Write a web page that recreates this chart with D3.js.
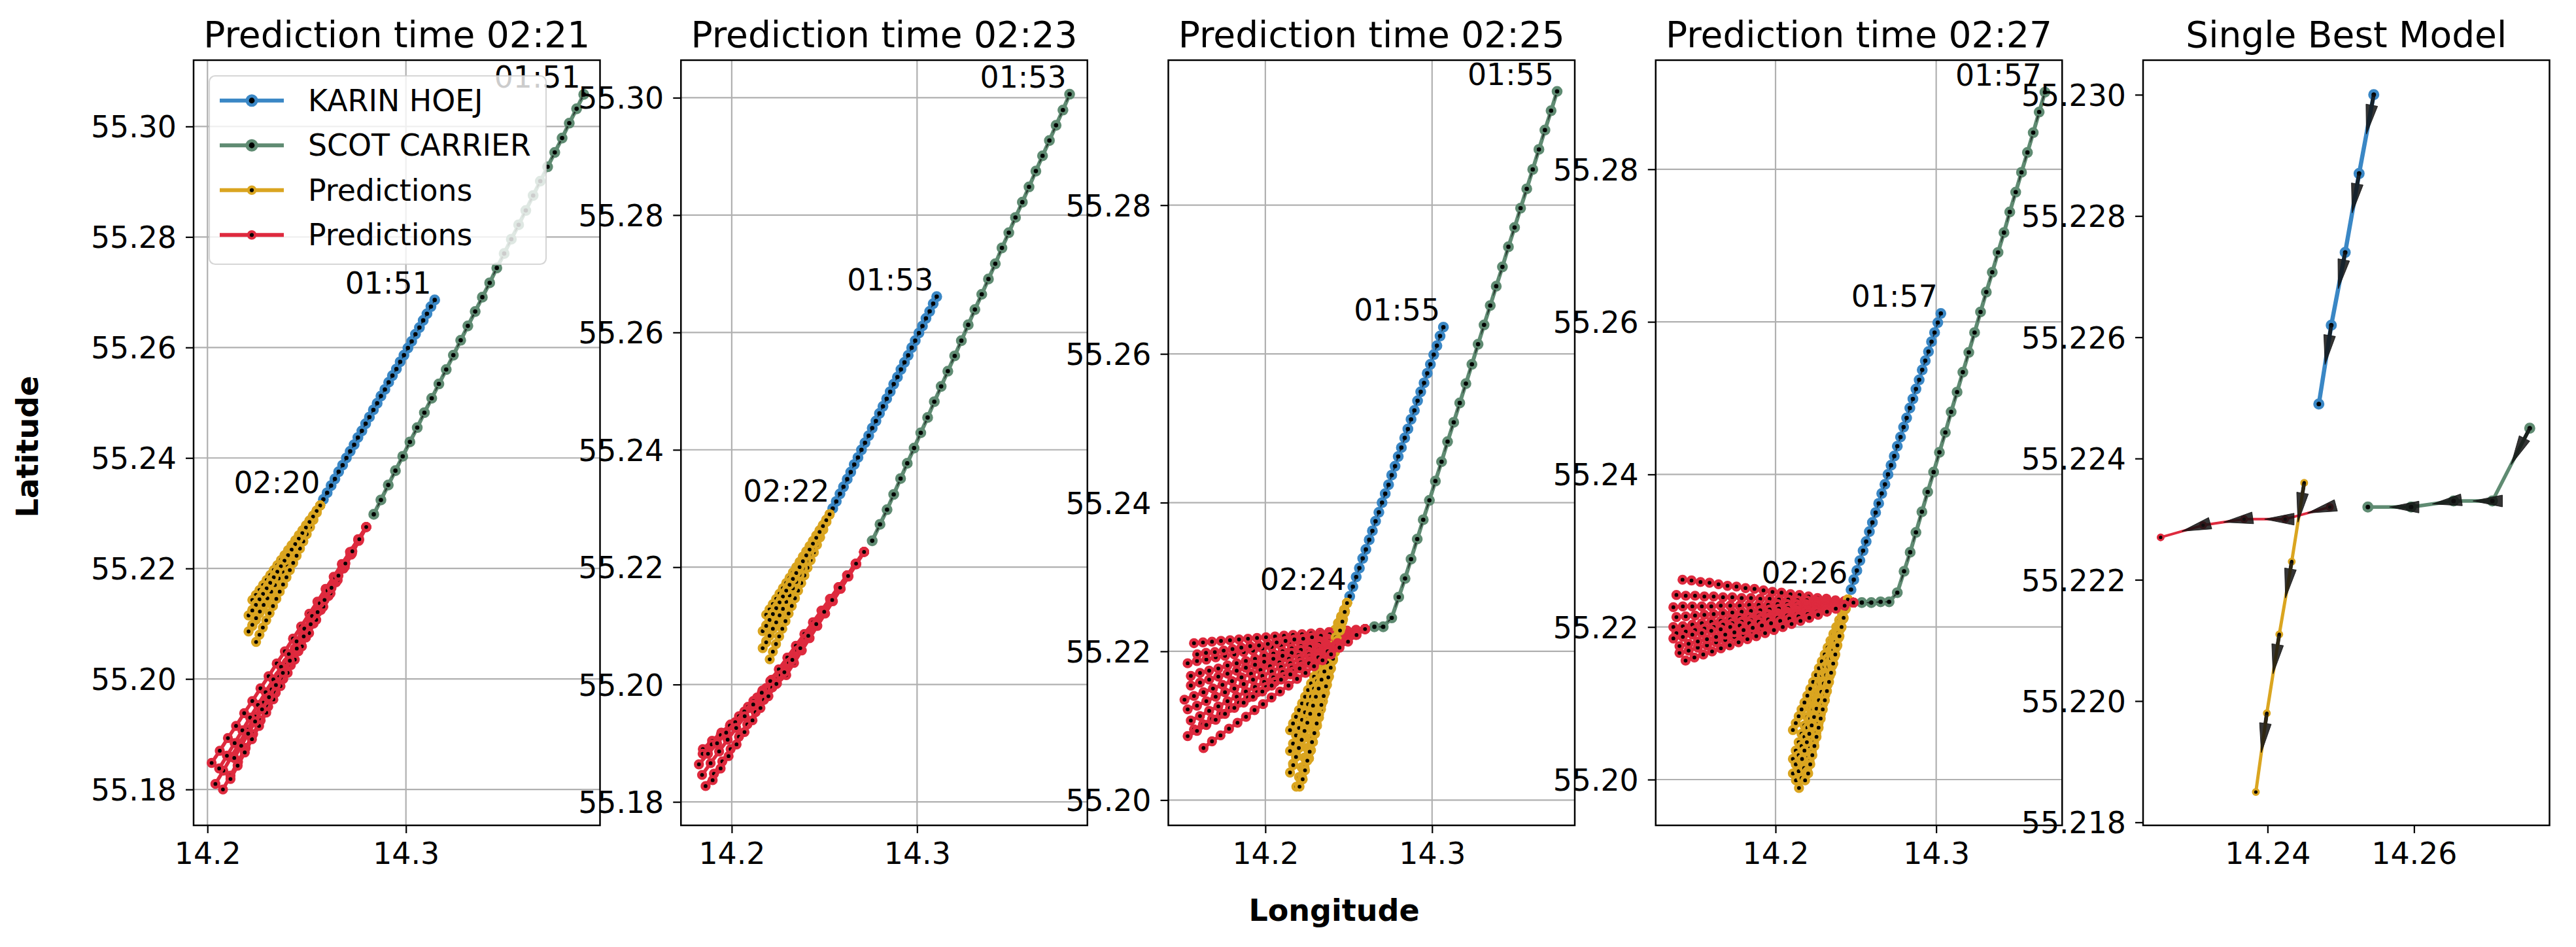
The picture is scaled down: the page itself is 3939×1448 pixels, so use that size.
<!DOCTYPE html>
<html>
<head>
<meta charset="utf-8">
<script src="https://cdn.jsdelivr.net/npm/d3@7"></script>
<style>
  body { margin: 0; background: #fff; }
</style>
</head>
<body>
<div id="chart"></div>
<script>
// ship fixes, one per minute, 01:51 .. 02:26
const trackTimes = ['01:51', '01:52', '01:53', '01:54', '01:55', '01:56', '01:57', '01:58', '01:59', '02:00',
  '02:01', '02:02', '02:03', '02:04', '02:05', '02:06', '02:07', '02:08', '02:09', '02:10',
  '02:11', '02:12', '02:13', '02:14', '02:15', '02:16', '02:17', '02:18', '02:19', '02:20',
  '02:21', '02:22', '02:23', '02:24', '02:25', '02:26'];

const karinHoejLon = [14.3145, 14.3126, 14.3106, 14.3087, 14.3068, 14.3048, 14.3029, 14.3010, 14.2990, 14.2971,
  14.2952, 14.2932, 14.2913, 14.2894, 14.2874, 14.2855, 14.2836, 14.2816, 14.2797, 14.2778,
  14.2758, 14.2739, 14.2719, 14.2700, 14.2681, 14.2661, 14.2642, 14.2623, 14.2603, 14.2584,
  14.2564, 14.2545, 14.2525, 14.2506, 14.2487, 14.2470];
const karinHoejLat = [55.2686, 55.2674, 55.2661, 55.2649, 55.2636, 55.2624, 55.2611, 55.2599, 55.2586, 55.2574,
  55.2561, 55.2549, 55.2537, 55.2524, 55.2512, 55.2499, 55.2487, 55.2474, 55.2462, 55.2449,
  55.2437, 55.2424, 55.2412, 55.2400, 55.2387, 55.2375, 55.2362, 55.2350, 55.2337, 55.2325,
  55.2312, 55.2300, 55.2287, 55.2274, 55.2262, 55.2249];

const scotCarrierLon = [14.3896, 14.3860, 14.3823, 14.3787, 14.3750, 14.3714, 14.3677, 14.3641, 14.3604, 14.3568,
  14.3531, 14.3495, 14.3458, 14.3422, 14.3385, 14.3349, 14.3312, 14.3276, 14.3239, 14.3203,
  14.3166, 14.3130, 14.3093, 14.3057, 14.3020, 14.2984, 14.2947, 14.2911, 14.2874, 14.2838,
  14.2800, 14.2758, 14.2707, 14.2654, 14.2596, 14.2537];
const scotCarrierLat = [55.3058, 55.3032, 55.3006, 55.2979, 55.2953, 55.2927, 55.2901, 55.2875, 55.2848, 55.2822,
  55.2796, 55.2770, 55.2744, 55.2717, 55.2691, 55.2665, 55.2639, 55.2613, 55.2586, 55.2560,
  55.2534, 55.2508, 55.2482, 55.2455, 55.2429, 55.2403, 55.2377, 55.2351, 55.2324, 55.2298,
  55.2273, 55.2245, 55.2233, 55.2233, 55.2232, 55.2232];

const predictionTimes = ['02:21', '02:23', '02:25', '02:27'];

// prediction runs per panel, each run is [lons, lats]
const karinPred0221 = [
  [[14.2568,14.2550,14.2532,14.2514,14.2496,14.2478,14.2460,14.2442,14.2424,14.2406,14.2388,14.2370,14.2352,14.2334,14.2316,14.2298,14.2280,14.2262,14.2244,14.2226],
   [55.2314,55.2305,55.2296,55.2287,55.2278,55.2269,55.2260,55.2251,55.2242,55.2233,55.2224,55.2215,55.2206,55.2197,55.2188,55.2179,55.2170,55.2161,55.2152,55.2143]],
  [[14.2568,14.2549,14.2530,14.2511,14.2492,14.2473,14.2454,14.2435,14.2416,14.2397,14.2378,14.2359,14.2340,14.2321,14.2302,14.2283,14.2264,14.2245,14.2226,14.2207],
   [55.2314,55.2304,55.2293,55.2283,55.2272,55.2262,55.2251,55.2241,55.2230,55.2220,55.2209,55.2199,55.2188,55.2178,55.2167,55.2157,55.2146,55.2136,55.2125,55.2115]],
  [[14.2568,14.2550,14.2532,14.2514,14.2496,14.2478,14.2460,14.2442,14.2424,14.2406,14.2388,14.2370,14.2352,14.2334,14.2316,14.2298,14.2280,14.2262,14.2244,14.2226],
   [55.2314,55.2303,55.2291,55.2280,55.2268,55.2257,55.2245,55.2234,55.2222,55.2211,55.2199,55.2188,55.2176,55.2165,55.2153,55.2142,55.2130,55.2119,55.2107,55.2096]],
  [[14.2568,14.2549,14.2530,14.2511,14.2492,14.2473,14.2454,14.2435,14.2416,14.2397,14.2378,14.2359,14.2340,14.2321,14.2302,14.2283,14.2264,14.2245,14.2226,14.2207],
   [55.2314,55.2302,55.2290,55.2278,55.2266,55.2254,55.2242,55.2230,55.2218,55.2206,55.2194,55.2182,55.2170,55.2158,55.2146,55.2134,55.2122,55.2110,55.2098,55.2086]],
  [[14.2568,14.2551,14.2534,14.2517,14.2500,14.2483,14.2466,14.2449,14.2432,14.2415,14.2398,14.2381,14.2364,14.2347,14.2330,14.2313,14.2296,14.2279,14.2262,14.2245],
   [55.2314,55.2301,55.2288,55.2275,55.2262,55.2249,55.2236,55.2223,55.2210,55.2197,55.2184,55.2171,55.2158,55.2145,55.2132,55.2119,55.2106,55.2093,55.2080,55.2067]],
  [[14.2568,14.2550,14.2532,14.2514,14.2496,14.2478,14.2460,14.2442,14.2424,14.2406,14.2388,14.2370,14.2352,14.2334,14.2316,14.2298,14.2280,14.2262,14.2244,14.2226],
   [55.2314,55.2304,55.2294,55.2284,55.2274,55.2264,55.2254,55.2244,55.2234,55.2224,55.2214,55.2204,55.2194,55.2184,55.2174,55.2164,55.2154,55.2144,55.2134,55.2124]]
];
const scotPred0221 = [
  [[14.2800,14.2759,14.2718,14.2677,14.2636,14.2595,14.2554,14.2513,14.2472,14.2431,14.2390,14.2349,14.2308,14.2267,14.2226,14.2185,14.2144,14.2103,14.2062,14.2021],
   [55.2275,55.2253,55.2230,55.2208,55.2185,55.2163,55.2140,55.2118,55.2095,55.2073,55.2050,55.2028,55.2005,55.1983,55.1960,55.1938,55.1915,55.1893,55.1870,55.1848]],
  [[14.2800,14.2760,14.2720,14.2680,14.2640,14.2600,14.2560,14.2520,14.2480,14.2440,14.2400,14.2360,14.2320,14.2280,14.2240,14.2200,14.2160,14.2120,14.2080,14.2040],
   [55.2275,55.2251,55.2226,55.2202,55.2177,55.2153,55.2128,55.2104,55.2079,55.2055,55.2030,55.2006,55.1981,55.1957,55.1932,55.1908,55.1883,55.1859,55.1834,55.1810]],
  [[14.2800,14.2762,14.2724,14.2686,14.2648,14.2610,14.2572,14.2534,14.2496,14.2458,14.2420,14.2382,14.2344,14.2306,14.2268,14.2230,14.2192,14.2154,14.2116,14.2078],
   [55.2275,55.2250,55.2225,55.2200,55.2175,55.2150,55.2125,55.2100,55.2075,55.2050,55.2025,55.2000,55.1975,55.1950,55.1925,55.1900,55.1875,55.1850,55.1825,55.1800]],
  [[14.2800,14.2764,14.2728,14.2692,14.2656,14.2620,14.2584,14.2548,14.2512,14.2476,14.2440,14.2404,14.2368,14.2332,14.2296,14.2260,14.2224,14.2188,14.2152,14.2116],
   [55.2275,55.2251,55.2227,55.2203,55.2179,55.2155,55.2131,55.2107,55.2083,55.2059,55.2035,55.2011,55.1987,55.1963,55.1939,55.1915,55.1891,55.1867,55.1843,55.1819]],
  [[14.2800,14.2761,14.2722,14.2683,14.2644,14.2605,14.2566,14.2527,14.2488,14.2449,14.2410,14.2371,14.2332,14.2293,14.2254,14.2215,14.2176,14.2137,14.2098,14.2059],
   [55.2275,55.2252,55.2229,55.2206,55.2183,55.2160,55.2137,55.2114,55.2091,55.2068,55.2045,55.2022,55.1999,55.1976,55.1953,55.1930,55.1907,55.1884,55.1861,55.1838]],
  [[14.2800,14.2765,14.2730,14.2695,14.2660,14.2625,14.2590,14.2555,14.2520,14.2485,14.2450,14.2415,14.2380,14.2345,14.2310,14.2275,14.2240,14.2205,14.2170,14.2135],
   [55.2275,55.2253,55.2231,55.2209,55.2187,55.2165,55.2143,55.2121,55.2099,55.2077,55.2055,55.2033,55.2011,55.1989,55.1967,55.1945,55.1923,55.1901,55.1879,55.1857]]
];

const karinPred0223 = [
  [[14.2528,14.2510,14.2492,14.2474,14.2456,14.2438,14.2420,14.2402,14.2384,14.2366,14.2348,14.2330,14.2312,14.2294,14.2276,14.2258,14.2240,14.2222,14.2204,14.2186],
   [55.2290,55.2281,55.2272,55.2263,55.2254,55.2245,55.2236,55.2227,55.2218,55.2209,55.2200,55.2191,55.2182,55.2173,55.2164,55.2155,55.2146,55.2137,55.2128,55.2119]],
  [[14.2528,14.2509,14.2490,14.2471,14.2452,14.2433,14.2414,14.2395,14.2376,14.2357,14.2338,14.2319,14.2300,14.2281,14.2262,14.2243,14.2224,14.2205,14.2186,14.2167],
   [55.2290,55.2280,55.2269,55.2259,55.2248,55.2238,55.2227,55.2217,55.2206,55.2196,55.2185,55.2175,55.2164,55.2154,55.2143,55.2133,55.2122,55.2112,55.2101,55.2091]],
  [[14.2528,14.2509,14.2490,14.2471,14.2452,14.2433,14.2414,14.2395,14.2376,14.2357,14.2338,14.2319,14.2300,14.2281,14.2262,14.2243,14.2224,14.2205,14.2186,14.2167],
   [55.2290,55.2278,55.2266,55.2254,55.2242,55.2230,55.2218,55.2206,55.2194,55.2182,55.2170,55.2158,55.2146,55.2134,55.2122,55.2110,55.2098,55.2086,55.2074,55.2062]],
  [[14.2528,14.2511,14.2494,14.2477,14.2460,14.2443,14.2426,14.2409,14.2392,14.2375,14.2358,14.2341,14.2324,14.2307,14.2290,14.2273,14.2256,14.2239,14.2222,14.2205],
   [55.2290,55.2277,55.2264,55.2251,55.2238,55.2225,55.2212,55.2199,55.2186,55.2173,55.2160,55.2147,55.2134,55.2121,55.2108,55.2095,55.2082,55.2069,55.2056,55.2043]],
  [[14.2528,14.2510,14.2492,14.2474,14.2456,14.2438,14.2420,14.2402,14.2384,14.2366,14.2348,14.2330,14.2312,14.2294,14.2276,14.2258,14.2240,14.2222,14.2204,14.2186],
   [55.2290,55.2279,55.2267,55.2256,55.2244,55.2233,55.2221,55.2210,55.2198,55.2187,55.2175,55.2164,55.2152,55.2141,55.2129,55.2118,55.2106,55.2095,55.2083,55.2072]],
  [[14.2528,14.2510,14.2492,14.2474,14.2456,14.2438,14.2420,14.2402,14.2384,14.2366,14.2348,14.2330,14.2312,14.2294,14.2276,14.2258,14.2240,14.2222,14.2204,14.2186],
   [55.2290,55.2280,55.2270,55.2260,55.2250,55.2240,55.2230,55.2220,55.2210,55.2200,55.2190,55.2180,55.2170,55.2160,55.2150,55.2140,55.2130,55.2120,55.2110,55.2100]]
];
const scotPred0223 = [
  [[14.2714,14.2672,14.2630,14.2588,14.2546,14.2504,14.2462,14.2420,14.2378,14.2336,14.2294,14.2244,14.2194,14.2144,14.2094,14.2044,14.1994,14.1944,14.1894,14.1844],
   [55.2226,55.2205,55.2184,55.2163,55.2142,55.2121,55.2100,55.2079,55.2058,55.2037,55.2016,55.2002,55.1988,55.1974,55.1960,55.1946,55.1932,55.1918,55.1904,55.1890]],
  [[14.2714,14.2671,14.2628,14.2585,14.2542,14.2499,14.2456,14.2413,14.2370,14.2327,14.2284,14.2235,14.2186,14.2137,14.2088,14.2039,14.1990,14.1941,14.1892,14.1843],
   [55.2226,55.2206,55.2186,55.2166,55.2146,55.2126,55.2106,55.2086,55.2066,55.2046,55.2026,55.2010,55.1994,55.1978,55.1962,55.1946,55.1930,55.1914,55.1898,55.1882]],
  [[14.2714,14.2669,14.2624,14.2579,14.2534,14.2489,14.2444,14.2399,14.2354,14.2309,14.2264,14.2215,14.2166,14.2117,14.2068,14.2019,14.1970,14.1921,14.1872,14.1823],
   [55.2226,55.2206,55.2186,55.2166,55.2146,55.2126,55.2106,55.2086,55.2066,55.2046,55.2026,55.2008,55.1990,55.1972,55.1954,55.1936,55.1918,55.1900,55.1882,55.1864]],
  [[14.2714,14.2668,14.2622,14.2576,14.2530,14.2484,14.2438,14.2392,14.2346,14.2300,14.2254,14.2208,14.2162,14.2116,14.2070,14.2024,14.1978,14.1932,14.1886,14.1840],
   [55.2226,55.2206,55.2186,55.2166,55.2146,55.2126,55.2106,55.2086,55.2066,55.2046,55.2026,55.2006,55.1986,55.1966,55.1946,55.1926,55.1906,55.1886,55.1866,55.1846]],
  [[14.2714,14.2669,14.2624,14.2579,14.2534,14.2489,14.2444,14.2399,14.2354,14.2309,14.2264,14.2219,14.2174,14.2129,14.2084,14.2039,14.1994,14.1949,14.1904,14.1859],
   [55.2226,55.2205,55.2184,55.2163,55.2142,55.2121,55.2100,55.2079,55.2058,55.2037,55.2016,55.1995,55.1974,55.1953,55.1932,55.1911,55.1890,55.1869,55.1848,55.1827]],
  [[14.2714,14.2671,14.2628,14.2585,14.2542,14.2499,14.2456,14.2413,14.2370,14.2327,14.2284,14.2241,14.2198,14.2155,14.2112,14.2069,14.2026,14.1983,14.1940,14.1897],
   [55.2226,55.2206,55.2185,55.2165,55.2144,55.2124,55.2103,55.2083,55.2062,55.2042,55.2021,55.2001,55.1980,55.1960,55.1939,55.1919,55.1898,55.1878,55.1857,55.1837]]
];

const karinPred0225 = [
  [[14.2490,14.2472,14.2454,14.2436,14.2418,14.2400,14.2382,14.2364,14.2346,14.2328,14.2310,14.2292,14.2274,14.2256,14.2238,14.2220,14.2202,14.2184,14.2166,14.2148],
   [55.2265,55.2256,55.2247,55.2238,55.2229,55.2220,55.2211,55.2202,55.2193,55.2184,55.2175,55.2166,55.2157,55.2148,55.2139,55.2130,55.2121,55.2112,55.2103,55.2094]],
  [[14.2490,14.2472,14.2454,14.2436,14.2418,14.2400,14.2382,14.2364,14.2346,14.2328,14.2310,14.2292,14.2274,14.2256,14.2238,14.2220,14.2202,14.2184,14.2166,14.2148],
   [55.2265,55.2255,55.2244,55.2234,55.2223,55.2213,55.2202,55.2192,55.2181,55.2171,55.2160,55.2150,55.2139,55.2129,55.2118,55.2108,55.2097,55.2087,55.2076,55.2066]],
  [[14.2490,14.2472,14.2454,14.2436,14.2418,14.2400,14.2382,14.2364,14.2346,14.2328,14.2310,14.2292,14.2274,14.2256,14.2238,14.2220,14.2202,14.2184,14.2166,14.2148],
   [55.2265,55.2253,55.2241,55.2229,55.2217,55.2205,55.2193,55.2181,55.2169,55.2157,55.2145,55.2133,55.2121,55.2109,55.2097,55.2085,55.2073,55.2061,55.2049,55.2037]],
  [[14.2490,14.2474,14.2458,14.2442,14.2426,14.2410,14.2394,14.2378,14.2362,14.2346,14.2330,14.2314,14.2298,14.2282,14.2266,14.2250,14.2234,14.2218,14.2202,14.2186],
   [55.2265,55.2252,55.2239,55.2226,55.2213,55.2200,55.2187,55.2174,55.2161,55.2148,55.2135,55.2122,55.2109,55.2096,55.2083,55.2070,55.2057,55.2044,55.2031,55.2018]],
  [[14.2490,14.2475,14.2460,14.2445,14.2430,14.2415,14.2400,14.2385,14.2370,14.2355,14.2340,14.2325,14.2310,14.2295,14.2280,14.2265,14.2250,14.2235,14.2220,14.2205],
   [55.2265,55.2252,55.2239,55.2226,55.2213,55.2200,55.2187,55.2174,55.2161,55.2148,55.2135,55.2122,55.2109,55.2096,55.2083,55.2070,55.2057,55.2044,55.2031,55.2018]],
  [[14.2490,14.2478,14.2466,14.2454,14.2442,14.2430,14.2418,14.2406,14.2394,14.2382,14.2370,14.2358,14.2346,14.2334,14.2322,14.2310,14.2298,14.2286,14.2274,14.2262],
   [55.2265,55.2254,55.2243,55.2232,55.2221,55.2210,55.2199,55.2188,55.2177,55.2166,55.2155,55.2144,55.2133,55.2122,55.2111,55.2100,55.2089,55.2078,55.2067,55.2056]],
  [[14.2490,14.2473,14.2456,14.2439,14.2422,14.2405,14.2388,14.2371,14.2354,14.2337,14.2320,14.2303,14.2286,14.2269,14.2252,14.2235,14.2218,14.2201,14.2184,14.2167],
   [55.2265,55.2254,55.2242,55.2231,55.2219,55.2208,55.2196,55.2185,55.2173,55.2162,55.2150,55.2139,55.2127,55.2116,55.2104,55.2093,55.2081,55.2070,55.2058,55.2047]],
  [[14.2490,14.2476,14.2462,14.2448,14.2434,14.2420,14.2406,14.2392,14.2378,14.2364,14.2350,14.2336,14.2322,14.2308,14.2294,14.2280,14.2266,14.2252,14.2238,14.2224],
   [55.2265,55.2253,55.2240,55.2228,55.2215,55.2203,55.2190,55.2178,55.2165,55.2153,55.2140,55.2128,55.2115,55.2103,55.2090,55.2078,55.2065,55.2053,55.2040,55.2028]]
];
const scotPred0225 = [
  [[14.2598,14.2544,14.2490,14.2436,14.2382,14.2328,14.2274,14.2220,14.2166,14.2112,14.2058,14.2004,14.1950,14.1896,14.1842,14.1788,14.1734,14.1680,14.1626,14.1572],
   [55.2230,55.2229,55.2228,55.2227,55.2226,55.2225,55.2224,55.2223,55.2222,55.2221,55.2220,55.2219,55.2218,55.2217,55.2216,55.2215,55.2214,55.2213,55.2212,55.2211]],
  [[14.2598,14.2542,14.2486,14.2430,14.2374,14.2318,14.2262,14.2206,14.2150,14.2094,14.2038,14.1982,14.1926,14.1870,14.1814,14.1758,14.1702,14.1646,14.1590,14.1534],
   [55.2230,55.2228,55.2225,55.2223,55.2220,55.2218,55.2216,55.2213,55.2211,55.2208,55.2206,55.2204,55.2201,55.2199,55.2196,55.2194,55.2192,55.2189,55.2187,55.2184]],
  [[14.2598,14.2545,14.2492,14.2439,14.2386,14.2333,14.2280,14.2227,14.2174,14.2121,14.2068,14.2015,14.1962,14.1909,14.1856,14.1803,14.1750,14.1697,14.1644,14.1591],
   [55.2230,55.2228,55.2226,55.2225,55.2223,55.2221,55.2219,55.2217,55.2216,55.2214,55.2212,55.2210,55.2208,55.2207,55.2205,55.2203,55.2201,55.2199,55.2198,55.2196]],
  [[14.2598,14.2543,14.2488,14.2433,14.2378,14.2323,14.2268,14.2213,14.2158,14.2103,14.2048,14.1993,14.1938,14.1883,14.1828,14.1773,14.1718,14.1663,14.1608,14.1553],
   [55.2230,55.2227,55.2223,55.2220,55.2217,55.2214,55.2210,55.2207,55.2204,55.2200,55.2197,55.2194,55.2190,55.2187,55.2184,55.2181,55.2177,55.2174,55.2171,55.2167]],
  [[14.2598,14.2543,14.2488,14.2433,14.2378,14.2323,14.2268,14.2213,14.2158,14.2103,14.2048,14.1993,14.1938,14.1883,14.1828,14.1773,14.1718,14.1663,14.1608,14.1553],
   [55.2230,55.2226,55.2222,55.2218,55.2214,55.2210,55.2206,55.2202,55.2198,55.2194,55.2190,55.2186,55.2182,55.2178,55.2174,55.2170,55.2166,55.2162,55.2158,55.2154]],
  [[14.2598,14.2541,14.2484,14.2427,14.2370,14.2313,14.2256,14.2199,14.2142,14.2085,14.2028,14.1971,14.1914,14.1857,14.1800,14.1743,14.1686,14.1629,14.1572,14.1515],
   [55.2230,55.2225,55.2220,55.2215,55.2210,55.2205,55.2200,55.2195,55.2190,55.2185,55.2180,55.2175,55.2170,55.2165,55.2160,55.2155,55.2150,55.2145,55.2140,55.2135]],
  [[14.2598,14.2542,14.2486,14.2430,14.2374,14.2318,14.2262,14.2206,14.2150,14.2094,14.2038,14.1982,14.1926,14.1870,14.1814,14.1758,14.1702,14.1646,14.1590,14.1534],
   [55.2230,55.2224,55.2219,55.2213,55.2207,55.2202,55.2196,55.2190,55.2184,55.2179,55.2173,55.2167,55.2162,55.2156,55.2150,55.2145,55.2139,55.2133,55.2127,55.2122]],
  [[14.2598,14.2543,14.2488,14.2433,14.2378,14.2323,14.2268,14.2213,14.2158,14.2103,14.2048,14.1993,14.1938,14.1883,14.1828,14.1773,14.1718,14.1663,14.1608,14.1553],
   [55.2230,55.2224,55.2217,55.2211,55.2204,55.2198,55.2191,55.2185,55.2178,55.2172,55.2165,55.2159,55.2152,55.2146,55.2139,55.2133,55.2126,55.2120,55.2113,55.2107]],
  [[14.2598,14.2544,14.2490,14.2436,14.2382,14.2328,14.2274,14.2220,14.2166,14.2112,14.2058,14.2004,14.1950,14.1896,14.1842,14.1788,14.1734,14.1680,14.1626,14.1572],
   [55.2230,55.2223,55.2216,55.2209,55.2202,55.2195,55.2187,55.2180,55.2173,55.2166,55.2159,55.2152,55.2145,55.2138,55.2131,55.2124,55.2116,55.2109,55.2102,55.2095]],
  [[14.2598,14.2542,14.2486,14.2430,14.2374,14.2318,14.2262,14.2206,14.2150,14.2094,14.2038,14.1982,14.1926,14.1870,14.1814,14.1758,14.1702,14.1646,14.1590,14.1534],
   [55.2230,55.2222,55.2215,55.2207,55.2200,55.2192,55.2184,55.2177,55.2169,55.2162,55.2154,55.2146,55.2139,55.2131,55.2124,55.2116,55.2108,55.2101,55.2093,55.2086]],
  [[14.2598,14.2547,14.2496,14.2445,14.2394,14.2343,14.2292,14.2241,14.2190,14.2139,14.2088,14.2037,14.1986,14.1935,14.1884,14.1833,14.1782,14.1731,14.1680,14.1629],
   [55.2230,55.2222,55.2213,55.2205,55.2196,55.2188,55.2180,55.2171,55.2163,55.2154,55.2146,55.2138,55.2129,55.2121,55.2112,55.2104,55.2096,55.2087,55.2079,55.2070]]
];

const karinPred0227 = [
  [[14.2450,14.2432,14.2414,14.2396,14.2378,14.2360,14.2342,14.2324,14.2306,14.2288,14.2270,14.2252,14.2234,14.2216,14.2198,14.2180,14.2162,14.2144,14.2126,14.2108],
   [55.2236,55.2227,55.2218,55.2209,55.2200,55.2191,55.2182,55.2173,55.2164,55.2155,55.2146,55.2137,55.2128,55.2119,55.2110,55.2101,55.2092,55.2083,55.2074,55.2065]],
  [[14.2450,14.2432,14.2414,14.2396,14.2378,14.2360,14.2342,14.2324,14.2306,14.2288,14.2270,14.2252,14.2234,14.2216,14.2198,14.2180,14.2162,14.2144,14.2126,14.2108],
   [55.2236,55.2225,55.2214,55.2203,55.2192,55.2181,55.2170,55.2159,55.2148,55.2137,55.2126,55.2115,55.2104,55.2093,55.2082,55.2071,55.2060,55.2049,55.2038,55.2027]],
  [[14.2450,14.2432,14.2414,14.2396,14.2378,14.2360,14.2342,14.2324,14.2306,14.2288,14.2270,14.2252,14.2234,14.2216,14.2198,14.2180,14.2162,14.2144,14.2126,14.2108],
   [55.2236,55.2224,55.2212,55.2200,55.2188,55.2176,55.2164,55.2152,55.2140,55.2128,55.2116,55.2104,55.2092,55.2080,55.2068,55.2056,55.2044,55.2032,55.2020,55.2008]],
  [[14.2450,14.2433,14.2416,14.2399,14.2382,14.2365,14.2348,14.2331,14.2314,14.2297,14.2280,14.2263,14.2246,14.2229,14.2212,14.2195,14.2178,14.2161,14.2144,14.2127],
   [55.2236,55.2224,55.2211,55.2199,55.2186,55.2174,55.2161,55.2149,55.2136,55.2124,55.2111,55.2099,55.2086,55.2074,55.2061,55.2049,55.2036,55.2024,55.2011,55.1999]],
  [[14.2450,14.2434,14.2418,14.2402,14.2386,14.2370,14.2354,14.2338,14.2322,14.2306,14.2290,14.2274,14.2258,14.2242,14.2226,14.2210,14.2194,14.2178,14.2162,14.2146],
   [55.2236,55.2223,55.2210,55.2197,55.2184,55.2171,55.2158,55.2145,55.2132,55.2119,55.2106,55.2093,55.2080,55.2067,55.2054,55.2041,55.2028,55.2015,55.2002,55.1989]],
  [[14.2450,14.2435,14.2420,14.2405,14.2390,14.2375,14.2360,14.2345,14.2330,14.2315,14.2300,14.2285,14.2270,14.2255,14.2240,14.2225,14.2210,14.2195,14.2180,14.2165],
   [55.2236,55.2225,55.2214,55.2203,55.2192,55.2181,55.2170,55.2159,55.2148,55.2137,55.2126,55.2115,55.2104,55.2093,55.2082,55.2071,55.2060,55.2049,55.2038,55.2027]],
  [[14.2450,14.2436,14.2422,14.2408,14.2394,14.2380,14.2366,14.2352,14.2338,14.2324,14.2310,14.2296,14.2282,14.2268,14.2254,14.2240,14.2226,14.2212,14.2198,14.2184],
   [55.2236,55.2224,55.2211,55.2199,55.2186,55.2174,55.2161,55.2149,55.2136,55.2124,55.2111,55.2099,55.2086,55.2074,55.2061,55.2049,55.2036,55.2024,55.2011,55.1999]],
  [[14.2450,14.2437,14.2424,14.2411,14.2398,14.2385,14.2372,14.2359,14.2346,14.2333,14.2320,14.2307,14.2294,14.2281,14.2268,14.2255,14.2242,14.2229,14.2216,14.2203],
   [55.2236,55.2224,55.2212,55.2200,55.2188,55.2176,55.2164,55.2152,55.2140,55.2128,55.2116,55.2104,55.2092,55.2080,55.2068,55.2056,55.2044,55.2032,55.2020,55.2008]]
];
const scotPred0227 = [
  [[14.2485,14.2429,14.2373,14.2317,14.2261,14.2205,14.2149,14.2093,14.2037,14.1981,14.1925,14.1869,14.1813,14.1757,14.1701,14.1645,14.1589,14.1533,14.1477,14.1421],
   [55.2232,55.2234,55.2235,55.2237,55.2238,55.2240,55.2242,55.2243,55.2245,55.2246,55.2248,55.2250,55.2251,55.2253,55.2254,55.2256,55.2258,55.2259,55.2261,55.2262]],
  [[14.2485,14.2427,14.2369,14.2311,14.2253,14.2195,14.2137,14.2079,14.2021,14.1963,14.1905,14.1847,14.1789,14.1731,14.1673,14.1615,14.1557,14.1499,14.1441,14.1383],
   [55.2232,55.2233,55.2233,55.2234,55.2234,55.2235,55.2235,55.2236,55.2236,55.2237,55.2237,55.2238,55.2238,55.2239,55.2239,55.2240,55.2240,55.2241,55.2241,55.2242]],
  [[14.2485,14.2426,14.2367,14.2308,14.2249,14.2190,14.2131,14.2072,14.2013,14.1954,14.1895,14.1836,14.1777,14.1718,14.1659,14.1600,14.1541,14.1482,14.1423,14.1364],
   [55.2232,55.2232,55.2231,55.2231,55.2231,55.2230,55.2230,55.2230,55.2230,55.2229,55.2229,55.2229,55.2228,55.2228,55.2228,55.2227,55.2227,55.2227,55.2227,55.2226]],
  [[14.2485,14.2427,14.2369,14.2311,14.2253,14.2195,14.2137,14.2079,14.2021,14.1963,14.1905,14.1847,14.1789,14.1731,14.1673,14.1615,14.1557,14.1499,14.1441,14.1383],
   [55.2232,55.2231,55.2230,55.2229,55.2228,55.2227,55.2226,55.2225,55.2224,55.2223,55.2222,55.2221,55.2220,55.2219,55.2218,55.2217,55.2216,55.2215,55.2214,55.2213]],
  [[14.2485,14.2426,14.2367,14.2308,14.2249,14.2190,14.2131,14.2072,14.2013,14.1954,14.1895,14.1836,14.1777,14.1718,14.1659,14.1600,14.1541,14.1482,14.1423,14.1364],
   [55.2232,55.2230,55.2229,55.2227,55.2225,55.2224,55.2222,55.2220,55.2218,55.2217,55.2215,55.2213,55.2212,55.2210,55.2208,55.2207,55.2205,55.2203,55.2201,55.2200]],
  [[14.2485,14.2427,14.2369,14.2311,14.2253,14.2195,14.2137,14.2079,14.2021,14.1963,14.1905,14.1847,14.1789,14.1731,14.1673,14.1615,14.1557,14.1499,14.1441,14.1383],
   [55.2232,55.2230,55.2228,55.2226,55.2224,55.2222,55.2219,55.2217,55.2215,55.2213,55.2211,55.2209,55.2207,55.2205,55.2203,55.2200,55.2198,55.2196,55.2194,55.2192]],
  [[14.2485,14.2426,14.2367,14.2308,14.2249,14.2190,14.2131,14.2072,14.2013,14.1954,14.1895,14.1836,14.1777,14.1718,14.1659,14.1600,14.1541,14.1482,14.1423,14.1364],
   [55.2232,55.2230,55.2227,55.2225,55.2222,55.2220,55.2217,55.2215,55.2212,55.2210,55.2207,55.2205,55.2202,55.2200,55.2197,55.2195,55.2192,55.2190,55.2187,55.2185]],
  [[14.2485,14.2428,14.2371,14.2314,14.2257,14.2200,14.2143,14.2086,14.2029,14.1972,14.1915,14.1858,14.1801,14.1744,14.1687,14.1630,14.1573,14.1516,14.1459,14.1402],
   [55.2232,55.2229,55.2225,55.2222,55.2218,55.2215,55.2211,55.2208,55.2204,55.2201,55.2197,55.2194,55.2190,55.2187,55.2183,55.2180,55.2176,55.2173,55.2169,55.2166]],
  [[14.2485,14.2428,14.2371,14.2314,14.2257,14.2200,14.2143,14.2086,14.2029,14.1972,14.1915,14.1858,14.1801,14.1744,14.1687,14.1630,14.1573,14.1516,14.1459,14.1402],
   [55.2232,55.2229,55.2226,55.2223,55.2220,55.2217,55.2214,55.2211,55.2208,55.2205,55.2202,55.2199,55.2196,55.2193,55.2190,55.2187,55.2184,55.2181,55.2178,55.2175]],
  [[14.2485,14.2430,14.2375,14.2320,14.2265,14.2210,14.2155,14.2100,14.2045,14.1990,14.1935,14.1880,14.1825,14.1770,14.1715,14.1660,14.1605,14.1550,14.1495,14.1440],
   [55.2232,55.2228,55.2224,55.2220,55.2216,55.2212,55.2208,55.2204,55.2200,55.2196,55.2192,55.2188,55.2184,55.2180,55.2176,55.2172,55.2168,55.2164,55.2160,55.2156]]
];

// single best model, first five predicted fixes
const bestKarinLon = [14.2450, 14.2433, 14.2416, 14.2399, 14.2384];
const bestKarinLat = [55.2236, 55.2223, 55.2211, 55.2198, 55.2185];
const bestScotLon = [14.2485, 14.2424, 14.2368, 14.2312, 14.2254];
const bestScotLat = [55.2232, 55.2230, 55.2230, 55.2229, 55.2227];

// axis limits and ticks, one entry per panel
const xLimits = [[14.1930, 14.3978], [14.1726, 14.3919], [14.1418, 14.3856], [14.1254, 14.3784], [14.2230, 14.2785]];
const yLimits = [[55.1735, 55.3120], [55.1760, 55.3064], [55.1966, 55.2995], [55.1940, 55.2943], [55.21795, 55.23057]];
const xTickValues = [[14.2, 14.3], [14.2, 14.3], [14.2, 14.3], [14.2, 14.3], [14.24, 14.26]];
const yTickValues = [
  [55.18, 55.20, 55.22, 55.24, 55.26, 55.28, 55.30],
  [55.18, 55.20, 55.22, 55.24, 55.26, 55.28, 55.30],
  [55.20, 55.22, 55.24, 55.26, 55.28],
  [55.20, 55.22, 55.24, 55.26, 55.28],
  [55.218, 55.220, 55.222, 55.224, 55.226, 55.228, 55.230]
];

const colors = { karin: '#3a87c5', scot: '#5f8b72', karinPred: '#daa520', scotPred: '#de2a3e' };
const fontFamily = "'DejaVu Sans', sans-serif";

const width = 3939;
const height = 1448;
const frameTop = 92;
const frameBottom = 1262;
const panelWidth = 621.5;
const panelLeft = [296, 1041.25, 1786.5, 2531.75, 3277];

const svg = d3.select('#chart')
  .append('svg')
  .attr('width', width)
  .attr('height', height)
  .attr('font-family', fontFamily);
svg.append('rect').attr('width', width).attr('height', height).attr('fill', '#fff');
const defs = svg.append('defs');

// line with ring markers (colored edge, black face)
function drawSeries(g, x, y, lon, lat, color, lw, r, sw) {
  const pts = lon.map((v, i) => [x(v), y(lat[i])]);
  g.append('path')
    .attr('d', d3.line()(pts))
    .attr('fill', 'none')
    .attr('stroke', color)
    .attr('stroke-width', lw)
    .attr('stroke-linejoin', 'round')
    .attr('stroke-linecap', 'round');
  g.append('g')
    .selectAll('circle')
    .data(pts)
    .join('circle')
    .attr('cx', d => d[0])
    .attr('cy', d => d[1])
    .attr('r', r)
    .attr('fill', '#000')
    .attr('stroke', color)
    .attr('stroke-width', sw);
  return pts;
}

// heading arrows from each fix towards the next, half a step long
function drawArrows(g, pts, small) {
  const polys = [];
  for (let i = 0; i < pts.length - 1; i++) {
    const [x0, y0] = pts[i];
    const [x1, y1] = pts[i + 1];
    const len = Math.hypot(x1 - x0, y1 - y0);
    if (len < 1) continue;
    const ux = (x1 - x0) / len;
    const uy = (y1 - y0) / len;
    const nx = -uy;
    const ny = ux;
    const half = len / 2;
    const tx = x0 + ux * half;
    const ty = y0 + uy * half;
    if (small) {
      // tiny arrow: starts just outside the marker ring
      const sx = x0 + ux * Math.min(half * 0.45, 6);
      const sy = y0 + uy * Math.min(half * 0.45, 6);
      const hw = 1.3;
      polys.push([[sx + nx * hw, sy + ny * hw], [tx, ty], [sx - nx * hw, sy - ny * hw]]);
    } else {
      const hl = 45;
      const hw = 9;
      const sw = 2.4;
      const bx = tx - ux * hl;
      const by = ty - uy * hl;
      if (half > hl) {
        polys.push([[x0 + nx * sw, y0 + ny * sw], [bx + nx * sw, by + ny * sw], [bx + nx * hw, by + ny * hw],
          [tx, ty], [bx - nx * hw, by - ny * hw], [bx - nx * sw, by - ny * sw], [x0 - nx * sw, y0 - ny * sw]]);
      } else {
        polys.push([[bx + nx * hw, by + ny * hw], [tx, ty], [bx - nx * hw, by - ny * hw]]);
      }
    }
  }
  g.append('g')
    .selectAll('path')
    .data(polys)
    .join('path')
    .attr('d', d => 'M' + d.map(p => p.join(',')).join('L') + 'Z')
    .attr('fill', '#111')
    .attr('fill-opacity', small ? 0.7 : 0.85)
    .attr('stroke', '#111')
    .attr('stroke-opacity', small ? 0.5 : 0.85)
    .attr('stroke-width', small ? 0.5 : 1);
}

const karinFans = [karinPred0221, karinPred0223, karinPred0225, karinPred0227];
const scotFans = [scotPred0221, scotPred0223, scotPred0225, scotPred0227];

for (let p = 0; p < 5; p++) {
  const left = panelLeft[p];
  const x = d3.scaleLinear().domain(xLimits[p]).range([left, left + panelWidth]);
  const y = d3.scaleLinear().domain(yLimits[p]).range([frameBottom, frameTop]);
  const g = svg.append('g');
  const best = p === 4;

  defs.append('clipPath').attr('id', 'clip' + p)
    .append('rect')
    .attr('x', left).attr('y', frameTop)
    .attr('width', panelWidth).attr('height', frameBottom - frameTop);

  // grid
  if (!best) {
    const grid = g.append('g').attr('stroke', '#b0b0b0').attr('stroke-width', 2.2);
    grid.selectAll('.gx').data(xTickValues[p]).join('line')
      .attr('x1', d => x(d)).attr('x2', d => x(d))
      .attr('y1', frameTop).attr('y2', frameBottom);
    grid.selectAll('.gy').data(yTickValues[p]).join('line')
      .attr('y1', d => y(d)).attr('y2', d => y(d))
      .attr('x1', left).attr('x2', left + panelWidth);
  }

  const data = g.append('g').attr('clip-path', `url(#clip${p})`);
  let karinPts;
  let scotPts;
  if (!best) {
    const i0 = 2 * p;
    const i1 = 2 * p + 30;
    karinPts = drawSeries(data, x, y, karinHoejLon.slice(i0, i1), karinHoejLat.slice(i0, i1), colors.karin, 6, 5.8, 5);
    scotPts = drawSeries(data, x, y, scotCarrierLon.slice(i0, i1), scotCarrierLat.slice(i0, i1), colors.scot, 6, 5.8, 5);
    const kf = karinFans[p];
    const sf = scotFans[p];
    for (let k = 0; k < Math.max(kf.length, sf.length); k++) {
      if (kf[k]) drawSeries(data, x, y, kf[k][0], kf[k][1], colors.karinPred, 5.5, 5.3, 4.8);
      if (sf[k]) drawSeries(data, x, y, sf[k][0], sf[k][1], colors.scotPred, 5.5, 5.3, 4.8);
    }
    drawArrows(data, karinPts, true);
    drawArrows(data, scotPts, true);
  } else {
    karinPts = drawSeries(data, x, y, karinHoejLon.slice(31), karinHoejLat.slice(31), colors.karin, 6.5, 6, 5);
    scotPts = drawSeries(data, x, y, scotCarrierLon.slice(31), scotCarrierLat.slice(31), colors.scot, 5.5, 6, 5);
    const kb = drawSeries(data, x, y, bestKarinLon, bestKarinLat, colors.karinPred, 5, 4.3, 3.4);
    const sb = drawSeries(data, x, y, bestScotLon, bestScotLat, colors.scotPred, 4, 4.3, 3.4);
    drawArrows(data, karinPts, false);
    drawArrows(data, scotPts, false);
    drawArrows(data, kb, false);
    drawArrows(data, sb, false);
  }

  // time stamps
  if (!best) {
    const stamps = [
      [karinPts[0], trackTimes[2 * p]],
      [scotPts[0], trackTimes[2 * p]],
      [karinPts[karinPts.length - 1], trackTimes[2 * p + 29]]
    ];
    g.append('g').selectAll('text').data(stamps).join('text')
      .attr('x', d => d[0][0] - 5)
      .attr('y', d => d[0][1] - 10)
      .attr('text-anchor', 'end')
      .attr('font-size', 45.8)
      .attr('fill', '#000')
      .text(d => d[1]);
  }

  // frame
  g.append('rect')
    .attr('x', left).attr('y', frameTop)
    .attr('width', panelWidth).attr('height', frameBottom - frameTop)
    .attr('fill', 'none').attr('stroke', '#000').attr('stroke-width', 2.5);

  // axes
  const xAxis = g.append('g')
    .attr('transform', `translate(0,${frameBottom})`)
    .call(d3.axisBottom(x).tickValues(xTickValues[p]).tickFormat(d3.format(best ? '.2f' : '.1f'))
      .tickSize(12).tickPadding(14).tickSizeOuter(0));
  const yAxis = g.append('g')
    .attr('transform', `translate(${left},0)`)
    .call(d3.axisLeft(y).tickValues(yTickValues[p]).tickFormat(d3.format(best ? '.3f' : '.2f'))
      .tickSize(12).tickPadding(14).tickSizeOuter(0));
  [xAxis, yAxis].forEach(a => {
    a.select('.domain').remove();
    a.attr('font-size', 45.8).attr('font-family', fontFamily);
    a.selectAll('line').attr('stroke', '#000').attr('stroke-width', 2.2);
    a.selectAll('text').attr('fill', '#000');
  });
  yAxis.selectAll('text').attr('dy', '0.36em');

  // title
  g.append('text')
    .attr('x', left + panelWidth / 2)
    .attr('y', 72)
    .attr('text-anchor', 'middle')
    .attr('font-size', 55)
    .attr('fill', '#000')
    .text(best ? 'Single Best Model' : 'Prediction time ' + predictionTimes[p]);

  // legend on the first panel
  if (p === 0) {
    const items = [
      { label: 'KARIN HOEJ', color: colors.karin, r: 7, sw: 5.2 },
      { label: 'SCOT CARRIER', color: colors.scot, r: 7, sw: 5.2 },
      { label: 'Predictions', color: colors.karinPred, r: 5.2, sw: 4.2 },
      { label: 'Predictions', color: colors.scotPred, r: 5.2, sw: 4.2 }
    ];
    const lg = g.append('g');
    lg.append('rect')
      .attr('x', left + 24).attr('y', 116)
      .attr('width', 515).attr('height', 288)
      .attr('rx', 9)
      .attr('fill', '#fff').attr('fill-opacity', 0.8)
      .attr('stroke', '#cccccc').attr('stroke-opacity', 0.8).attr('stroke-width', 2.2);
    const row = lg.selectAll('.row').data(items).join('g')
      .attr('transform', (d, i) => `translate(${left},${153.75 + i * 68.5})`);
    row.append('line')
      .attr('x1', 40).attr('x2', 138)
      .attr('stroke', d => d.color).attr('stroke-width', 6);
    row.append('circle')
      .attr('cx', 89).attr('r', d => d.r)
      .attr('fill', '#000').attr('stroke', d => d.color).attr('stroke-width', d => d.sw);
    row.append('text')
      .attr('x', 175).attr('y', 16)
      .attr('font-size', 45.8).attr('fill', '#000')
      .text(d => d.label);
  }
}

// shared axis labels
svg.append('text')
  .attr('x', 2040)
  .attr('y', 1408)
  .attr('text-anchor', 'middle')
  .attr('font-size', 46)
  .attr('font-weight', 'bold')
  .attr('fill', '#000')
  .text('Longitude');
svg.append('text')
  .attr('transform', 'translate(58,683) rotate(-90)')
  .attr('text-anchor', 'middle')
  .attr('font-size', 46)
  .attr('font-weight', 'bold')
  .attr('fill', '#000')
  .text('Latitude');
</script>
</body>
</html>
